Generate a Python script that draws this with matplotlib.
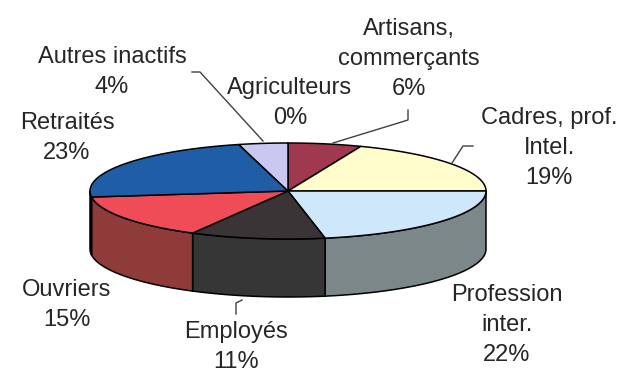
import numpy as np
import matplotlib
matplotlib.use("Agg")
from matplotlib import pyplot as plt
from matplotlib.patches import Polygon

# population split by socio-professional category (%)
categories = ['Agriculteurs', 'Artisans,\ncommerçants', 'Cadres, prof.\nIntel.',
              'Profession\ninter.', 'Employés', 'Ouvriers', 'Retraités', 'Autres inactifs']
shares = [0, 6, 19, 22, 11, 15, 23, 4]

top_colors = ['#ffffff', '#a0384f', '#fffdcc', '#cfe7fa', '#3b3437',
              '#f04c58', '#1f5ea6', '#c9c8f0']
side_colors = ['#cccccc', '#6e2636', '#b8b890', '#7b8789', '#363636',
               '#8e3b3a', '#17467c', '#9090b0']

# label block centres (pixels) and leader lines
label_xy = [(290, 103), (409, 59), (549, 148), (507, 325), (236, 347),
            (67, 305), (67, 138), (112, 72)]
leaders = {
    1: [(408, 110), (408, 120), (333, 143)],
    2: [(473, 146), (463, 146), (452, 163)],
    4: [(236, 314), (236, 303), (242, 300)],
    7: [(192, 72), (200, 72), (263, 141)],
}

# pie geometry in pixels
cx, cy = 288, 191
a, b = 198, 48
depth = 58


def arc(t0, t1, dy=0, n=60):
    t = np.radians(np.linspace(t0, t1, n))
    return np.column_stack([cx + a * np.cos(t), cy - b * np.sin(t) + dy])


fig = plt.figure(figsize=(6.24, 3.78), dpi=100)
ax = fig.add_axes([0, 0, 1, 1])
ax.set_xlim(0, 624)
ax.set_ylim(378, 0)
ax.axis('off')

total = float(sum(shares))
cum = np.concatenate([[0], np.cumsum(shares)]) / total

for i in range(len(shares)):
    t_start = 90 - 360 * cum[i]
    t_end = 90 - 360 * cum[i + 1]

    # outer wall, only the front half shows
    lo, hi = max(t_end, -180), min(t_start, 0)
    if lo < hi:
        top = arc(hi, lo)
        bottom = arc(lo, hi, dy=depth)
        ax.add_patch(Polygon(np.vstack([top, bottom]), closed=True,
                             facecolor=side_colors[i], edgecolor='black',
                             lw=1.1, zorder=1))

    pts = np.vstack([[cx, cy], arc(t_start, t_end)])
    ax.add_patch(Polygon(pts, closed=True, facecolor=top_colors[i],
                         edgecolor='black', lw=1.1, zorder=2))

for i, (x, y) in enumerate(label_xy):
    ax.text(x, y, f"{categories[i]}\n{shares[i]}%", ha='center', va='center',
            fontsize=17, family='Liberation Sans', color='#262626',
            linespacing=1.45, zorder=5)

for i, pts in leaders.items():
    xs, ys = zip(*pts)
    ax.plot(xs, ys, color='#404040', lw=1, zorder=4)

plt.savefig('out.png', dpi=100)
